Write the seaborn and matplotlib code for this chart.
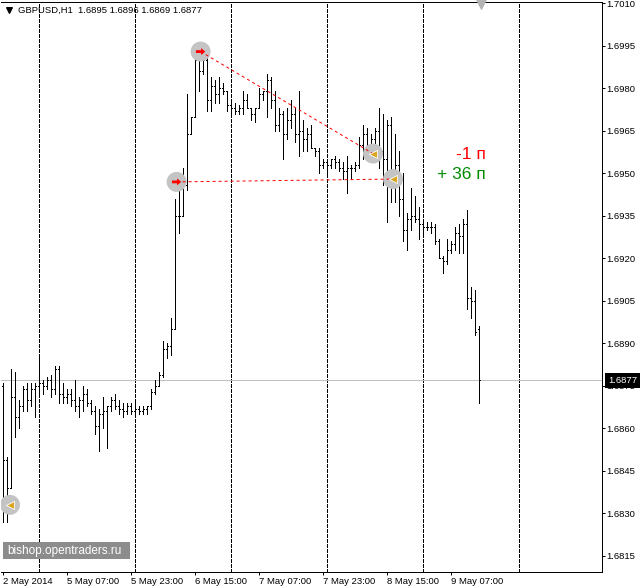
import numpy as np
import pandas as pd
import matplotlib
matplotlib.use("Agg")
import matplotlib.pyplot as plt
import matplotlib.transforms as mtransforms
from matplotlib.path import Path
from matplotlib.patches import Rectangle
import seaborn as sns

symbol = "GBPUSD,H1"

# hourly bars, 2 May 2014 15:00 .. 9 May 2014 14:00
opens = [1.6875, 1.6849, 1.6839, 1.6871, 1.6864, 1.6868, 1.6874, 1.6870, 1.6874, 1.6875,
         1.6876, 1.6875, 1.6877, 1.6874, 1.6881, 1.6872, 1.6871, 1.6872, 1.6870, 1.6868,
         1.6870, 1.6872, 1.6869, 1.6866, 1.6861, 1.6865, 1.6866, 1.6868, 1.6870, 1.6868,
         1.6867, 1.6866, 1.6868, 1.6866, 1.6867, 1.6866, 1.6867, 1.6868, 1.6873, 1.6875,
         1.6879, 1.6888, 1.6889, 1.6895, 1.6935, 1.6935, 1.6946, 1.6964, 1.6970, 1.6990,
         1.6986, 1.6990, 1.6976, 1.6981, 1.6978, 1.6980, 1.6979, 1.6974, 1.6973, 1.6972,
         1.6973, 1.6976, 1.6973, 1.6971, 1.6973, 1.6978, 1.6979, 1.6983, 1.6976, 1.6967,
         1.6971, 1.6964, 1.6969, 1.6971, 1.6964, 1.6965, 1.6962, 1.6964, 1.6959, 1.6958,
         1.6953, 1.6954, 1.6953, 1.6955, 1.6954, 1.6952, 1.6951, 1.6952, 1.6952, 1.6953,
         1.6960, 1.6964, 1.6960, 1.6962, 1.6965, 1.6958, 1.6955, 1.6967, 1.6951, 1.6953,
         1.6941, 1.6930, 1.6934, 1.6935, 1.6934, 1.6932, 1.6931, 1.6931, 1.6931, 1.6926,
         1.6920, 1.6919, 1.6923, 1.6925, 1.6929, 1.6928, 1.6932, 1.6906, 1.6905, 1.6895]
highs = [1.6876, 1.6850, 1.6881, 1.6880, 1.6870, 1.6875, 1.6876, 1.6876, 1.6876, 1.6886,
         1.6877, 1.6878, 1.6879, 1.6882, 1.6882, 1.6876, 1.6874, 1.6874, 1.6877, 1.6871,
         1.6875, 1.6874, 1.6870, 1.6868, 1.6867, 1.6871, 1.6868, 1.6871, 1.6872, 1.6870,
         1.6869, 1.6869, 1.6869, 1.6869, 1.6868, 1.6868, 1.6868, 1.6874, 1.6877, 1.6880,
         1.6891, 1.6890, 1.6899, 1.6941, 1.6950, 1.6952, 1.6978, 1.6970, 1.6991, 1.6992,
         1.6995, 1.6992, 1.6984, 1.6983, 1.6984, 1.6982, 1.6979, 1.6976, 1.6975, 1.6974,
         1.6979, 1.6978, 1.6973, 1.6973, 1.6980, 1.6979, 1.6985, 1.6984, 1.6979, 1.6973,
         1.6972, 1.6973, 1.6976, 1.6973, 1.6979, 1.6969, 1.6966, 1.6967, 1.6959, 1.6959,
         1.6955, 1.6955, 1.6955, 1.6956, 1.6955, 1.6954, 1.6956, 1.6953, 1.6954, 1.6963,
         1.6967, 1.6966, 1.6964, 1.6966, 1.6973, 1.6971, 1.6969, 1.6970, 1.6964, 1.6958,
         1.6950, 1.6936, 1.6945, 1.6942, 1.6938, 1.6934, 1.6933, 1.6933, 1.6932, 1.6927,
         1.6921, 1.6927, 1.6926, 1.6931, 1.6932, 1.6934, 1.6937, 1.6910, 1.6909, 1.6896]
lows = [1.6827, 1.6827, 1.6839, 1.6857, 1.6860, 1.6866, 1.6866, 1.6868, 1.6864, 1.6872,
        1.6872, 1.6874, 1.6871, 1.6872, 1.6869, 1.6869, 1.6869, 1.6868, 1.6866, 1.6864,
        1.6866, 1.6868, 1.6865, 1.6858, 1.6852, 1.6860, 1.6853, 1.6866, 1.6867, 1.6865,
        1.6864, 1.6865, 1.6865, 1.6864, 1.6865, 1.6865, 1.6865, 1.6867, 1.6872, 1.6875,
        1.6878, 1.6885, 1.6886, 1.6895, 1.6929, 1.6935, 1.6944, 1.6964, 1.6970, 1.6979,
        1.6985, 1.6972, 1.6972, 1.6975, 1.6975, 1.6978, 1.6972, 1.6971, 1.6971, 1.6971,
        1.6971, 1.6973, 1.6969, 1.6968, 1.6973, 1.6976, 1.6970, 1.6973, 1.6965, 1.6965,
        1.6955, 1.6962, 1.6966, 1.6961, 1.6956, 1.6958, 1.6958, 1.6959, 1.6956, 1.6950,
        1.6952, 1.6950, 1.6952, 1.6952, 1.6951, 1.6948, 1.6943, 1.6948, 1.6951, 1.6952,
        1.6955, 1.6957, 1.6956, 1.6958, 1.6952, 1.6946, 1.6933, 1.6940, 1.6940, 1.6935,
        1.6926, 1.6923, 1.6930, 1.6933, 1.6927, 1.6929, 1.6930, 1.6929, 1.6925, 1.6920,
        1.6915, 1.6918, 1.6922, 1.6923, 1.6922, 1.6922, 1.6902, 1.6899, 1.6893, 1.6869]
closes = [1.6849, 1.6839, 1.6871, 1.6864, 1.6868, 1.6874, 1.6870, 1.6874, 1.6875, 1.6876,
          1.6875, 1.6877, 1.6874, 1.6881, 1.6872, 1.6871, 1.6872, 1.6870, 1.6868, 1.6870,
          1.6872, 1.6869, 1.6866, 1.6861, 1.6865, 1.6866, 1.6868, 1.6870, 1.6868, 1.6867,
          1.6866, 1.6868, 1.6866, 1.6867, 1.6866, 1.6867, 1.6868, 1.6873, 1.6875, 1.6879,
          1.6888, 1.6889, 1.6895, 1.6935, 1.6935, 1.6946, 1.6964, 1.6970, 1.6990, 1.6986,
          1.6990, 1.6976, 1.6981, 1.6978, 1.6980, 1.6979, 1.6974, 1.6973, 1.6972, 1.6973,
          1.6976, 1.6973, 1.6971, 1.6973, 1.6978, 1.6979, 1.6983, 1.6976, 1.6967, 1.6971,
          1.6964, 1.6969, 1.6971, 1.6964, 1.6965, 1.6962, 1.6964, 1.6959, 1.6958, 1.6953,
          1.6954, 1.6953, 1.6955, 1.6954, 1.6952, 1.6951, 1.6952, 1.6952, 1.6953, 1.6960,
          1.6964, 1.6960, 1.6962, 1.6965, 1.6958, 1.6955, 1.6967, 1.6951, 1.6953, 1.6941,
          1.6930, 1.6934, 1.6935, 1.6934, 1.6932, 1.6931, 1.6931, 1.6931, 1.6926, 1.6920,
          1.6919, 1.6923, 1.6925, 1.6929, 1.6928, 1.6932, 1.6906, 1.6905, 1.6894, 1.6877]

time_labels = ["2 May 2014", "5 May 07:00", "5 May 23:00", "6 May 15:00",
               "7 May 07:00", "7 May 23:00", "8 May 15:00", "9 May 07:00"]
label_bars = [0, 16, 32, 48, 64, 80, 96, 112]
day_starts = [9, 33, 57, 81, 105, 129]
price_ticks = [1.6815, 1.6830, 1.6845, 1.6860, 1.6875, 1.6890, 1.6905, 1.6920,
               1.6935, 1.6950, 1.6965, 1.6980, 1.6995, 1.7010]

# trades: bar position / price of open and close
entry_pos = [43.4, 49.4]
entry_price = [1.6947, 1.6993]
exit_pos = [97.5, 92.5]
exit_price = [1.6948, 1.6957]
old_exit_pos = [1.75]
old_exit_price = [1.6833]
profit_labels = ["-1 п", "+ 36 п"]
profit_colors = ["#ff0000", "#008c00"]

sns.set_theme(style="ticks")
plt.rcParams['font.family'] = ['Liberation Sans', 'DejaVu Sans']

fig = plt.figure(figsize=(6.41, 5.88), dpi=100)
ax = fig.add_axes([1 / 641, 16 / 588, 601 / 641, 570 / 588])

bars = pd.DataFrame({"open": opens, "high": highs, "low": lows, "close": closes})
bars["pos"] = np.arange(len(bars))

# day separators
ax.vlines(day_starts, 0, 1, transform=ax.get_xaxis_transform(), colors='black',
          linestyles=(0, (3, 2)), lw=0.72, antialiased=False, zorder=1)
ax.axhline(closes[-1], color='#c0c0c0', lw=0.72, zorder=1)

# OHLC bars
bar_lw = 0.72
ax.vlines(bars.pos, bars.low, bars.high, colors='black', lw=bar_lw, antialiased=False, zorder=2)
ax.hlines(bars.open, bars.pos - 0.25, bars.pos, colors='black', lw=bar_lw,
          antialiased=False, zorder=2)
ax.hlines(bars.close, bars.pos, bars.pos + 0.25, colors='black', lw=bar_lw,
          antialiased=False, zorder=2)

# trade marks
circles = pd.DataFrame({"pos": entry_pos + exit_pos + old_exit_pos,
                        "price": entry_price + exit_price + old_exit_price})
sns.scatterplot(data=circles, x="pos", y="price", s=207, color="#c4c4c4",
                edgecolor='none', ax=ax, zorder=3, legend=False)
for k in range(len(entry_pos)):
    ax.plot([entry_pos[k], exit_pos[k]], [entry_price[k], exit_price[k]],
            color='red', lw=0.72, linestyle=(0, (3, 3)), zorder=4)
arrow = Path([(-1, -0.3), (0.1, -0.3), (0.1, -0.75), (1, 0), (0.1, 0.75), (0.1, 0.3),
              (-1, 0.3), (-1, -0.3)],
             [Path.MOVETO] + [Path.LINETO] * 6 + [Path.CLOSEPOLY])
sns.scatterplot(x=entry_pos, y=entry_price, marker=arrow, s=45, color='red',
                edgecolor='none', ax=ax, zorder=5, legend=False)
sns.scatterplot(x=exit_pos + old_exit_pos, y=exit_price + old_exit_price, marker='<',
                s=34, color='#daa520', edgecolor='white', linewidth=0.6, ax=ax,
                zorder=5, legend=False)

ax.set_xlim(-0.5, 149.75)
ax.set_ylim(1.68093, 1.70105)
ax.set_xlabel("")
ax.set_ylabel("")

ax.yaxis.tick_right()
ax.set_yticks(price_ticks)
ax.set_yticklabels([f"{p:.4f}" for p in price_ticks])
ax.set_xticks(label_bars)
ax.set_xticklabels(time_labels, ha='left')
ax.tick_params(axis='both', labelsize=6.8, colors='black', length=2.2, width=0.72,
               direction='out', pad=1.2)
ax.tick_params(axis='y', left=False, labelleft=False, right=True, labelright=True)
for side in ['top', 'right', 'bottom']:
    ax.spines[side].set_color('black')
    ax.spines[side].set_linewidth(0.72)
ax.spines['left'].set_visible(False)

# current price box (drawn over the 1.6875 label, as in the terminal)
trans = mtransforms.blended_transform_factory(ax.transAxes, ax.transData)
ax.text(1.0105, closes[-1], f"{closes[-1]:.4f}", transform=trans, ha='left', va='center',
        fontsize=6.8, color='white', zorder=10, clip_on=False,
        bbox=dict(boxstyle='square,pad=0.32', fc='black', ec='none'))

# chart header
title = f"{symbol}  {opens[-1]:.4f} {highs[-1]:.4f} {lows[-1]:.4f} {closes[-1]:.4f}"
ax.text(0.0283, 0.986, title, transform=ax.transAxes, fontsize=6.8, ha='left',
        va='center', color='black')
ax.scatter([0.0133], [0.9865], marker='v', s=16, color='black', transform=ax.transAxes)
top_trans = mtransforms.blended_transform_factory(ax.transData, ax.transAxes)
ax.scatter([len(bars) - 0.5], [0.996], marker='v', s=45, color='#b4b4b4',
           transform=top_trans, clip_on=False, zorder=6)

# profit labels
ax.text(0.807, 0.7316, profit_labels[0], transform=ax.transAxes, fontsize=12.5,
        color=profit_colors[0], ha='right', va='center')
ax.text(0.807, 0.6965, profit_labels[1], transform=ax.transAxes, fontsize=12.5,
        color=profit_colors[1], ha='right', va='center')

# watermark
ax.add_patch(Rectangle((0.0033, 0.0228), 0.2113, 0.0298, transform=ax.transAxes,
                       fc='#8c8c8c', ec='none', zorder=7))
ax.text(0.0105, 0.0377, "bishop.opentraders.ru", transform=ax.transAxes, fontsize=8.5,
        color='white', ha='left', va='center', zorder=8)

fig.savefig("out.png", dpi=100, facecolor='white')
